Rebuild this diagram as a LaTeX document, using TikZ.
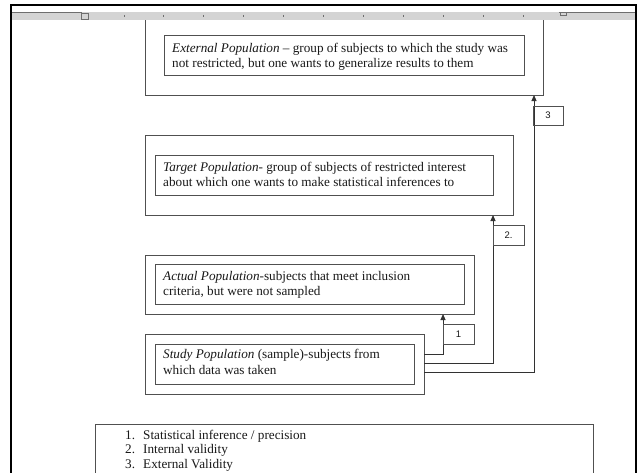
\documentclass[tikz,border=0pt]{standalone}
\usepackage{fontspec}
\setmainfont{Liberation Serif}
\newfontfamily\lblfont{Liberation Sans}
\usetikzlibrary{arrows.meta}
\definecolor{boxgray}{RGB}{80,80,80}
\definecolor{conngray}{RGB}{50,50,50}
\definecolor{rulerband}{RGB}{212,212,212}
\definecolor{rulerdark}{RGB}{110,110,110}
\definecolor{txtcol}{RGB}{25,25,25}
\begin{document}
\begin{tikzpicture}[x=1pt,y=-1pt,
  bx/.style={draw=boxgray, line width=1pt, inner sep=0pt, outer sep=0pt, anchor=north west},
  txt/.style={font=\fontsize{13.2}{15}\selectfont, text=txtcol, inner sep=0pt, anchor=base west},
  lbl/.style={draw=boxgray, line width=1pt, inner sep=0pt, outer sep=0pt, anchor=north west,
              font=\lblfont\fontsize{9.5}{11}\selectfont, text=txtcol},
  conn/.style={draw=conngray, line width=1pt, -{Triangle[length=6pt,width=5pt]}}]
\useasboundingbox (0,0) rectangle (639,472);
\fill[white] (0,0) rectangle (639,472);

% boxes
\node[bx, minimum width=398pt, minimum height=79pt] (extO) at (145,16) {};
\node[bx, minimum width=360pt, minimum height=40pt] (extI) at (164,35) {};
\node[bx, minimum width=368pt, minimum height=80pt] (tgtO) at (145,135) {};
\node[bx, minimum width=338pt, minimum height=40pt] (tgtI) at (155,155) {};
\node[bx, minimum width=329pt, minimum height=59pt] (actO) at (145,255) {};
\node[bx, minimum width=309pt, minimum height=40pt] (actI) at (155,264) {};
\node[bx, minimum width=279pt, minimum height=60pt] (stdO) at (145,334) {};
\node[bx, minimum width=259pt, minimum height=40pt] (stdI) at (155,344) {};
\node[bx, minimum width=498pt, minimum height=70pt] (leg) at (95,424) {};

% texts
\node[txt] (ext1) at (172,52) {\textit{External Population} – group of subjects to which the study was};
\node[txt] (ext2) at (172,67) {not restricted, but one wants to generalize results to them};
\node[txt] (tgt1) at (163,171) {\textit{Target Population}- group of subjects of restricted interest};
\node[txt] (tgt2) at (163,186) {about which one wants to make statistical inferences to};
\node[txt] (act1) at (163,280) {\textit{Actual Population}-subjects that meet inclusion};
\node[txt] (act2) at (163,295) {criteria, but were not sampled};
\node[txt] (std1) at (163,358) {\textit{Study Population} (sample)-subjects from};
\node[txt] (std2) at (163,374) {which data was taken};
\node[txt] (n1) at (125,439) {1.};
\node[txt] (n2) at (125,453) {2.};
\node[txt] (n3) at (125,468) {3.};
\node[txt] (g1) at (143,439) {Statistical inference / precision};
\node[txt] (g2) at (143,453) {Internal validity};
\node[txt] (g3) at (143,468) {External Validity};

% connectors
\coordinate (r1) at (0,354);
\coordinate (r2) at (0,363);
\coordinate (r3) at (0,372);
\coordinate (c1) at (443,0);
\coordinate (c2) at (493,0);
\coordinate (c3) at (534,0);
\draw[conn] (stdO.east |- r1) -| (actO.south -| c1);
\draw[conn] (stdO.east |- r2) -| (tgtO.south -| c2);
\draw[conn] (stdO.east |- r3) -| (extO.south -| c3);

% labels
\node[lbl, minimum width=31pt, minimum height=20pt] (l1) at (443,324) {1};
\node[lbl, minimum width=31pt, minimum height=20pt] (l2) at (493,225) {2.};
\node[lbl, minimum width=30pt, minimum height=19pt] (l3) at (533,106) {3};

% ruler
\fill[rulerband] (12,12) rectangle (635,19.5);
\draw[rulerdark, line width=0.8pt] (12,12.6) -- (82,12.6);
\draw[rulerdark, line width=0.8pt] (559,12.6) -- (635,12.6);
\draw[rulerdark, line width=0.8pt, fill=rulerband] (81.5,13) rectangle (88,19);
\draw[rulerdark, line width=0.8pt] (560,13) -- (560,15) -- (566,15) -- (566,13);
\foreach \i in {0,...,10} \fill[rulerdark] (123.5+39.9*\i,15) rectangle ++(1,1.5);

% outer frame
\draw[black, line width=2.5pt] (11,480) -- (11,5) -- (636,5) -- (636,480);
\end{tikzpicture}
\end{document}
